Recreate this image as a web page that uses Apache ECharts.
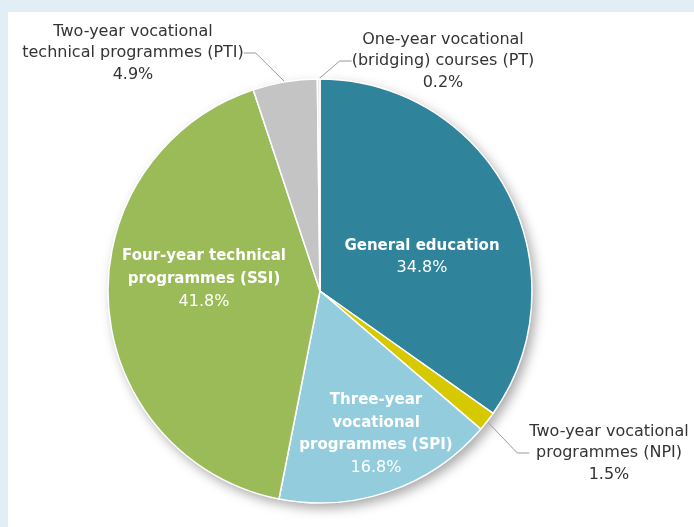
<!DOCTYPE html>
<html>
<head>
<meta charset="utf-8">
<script src="https://cdn.jsdelivr.net/npm/echarts@6/dist/echarts.min.js"></script>
<style>
  html, body { margin: 0; padding: 0; background: #e1eef5; }
  #chart { position: absolute; left: 8px; top: 12px; width: 686px; height: 515px; background: #fff; }
</style>
</head>
<body>
<div id="chart"></div>
<script>
// programme types, clockwise from 12 o'clock
var categories = [
    'General education',
    'Two-year vocational\nprogrammes (NPI)',
    'Three-year\nvocational\nprogrammes (SPI)',
    'Four-year technical\nprogrammes (SSI)',
    'Two-year vocational\ntechnical programmes (PTI)',
    'One-year vocational\n(bridging) courses (PT)'
];
var shares = [34.8, 1.5, 16.8, 41.8, 4.9, 0.2];
var colors = ['#2f849b', '#d7c900', '#93cddd', '#9bbb59', '#c4c4c4', '#e4e4e4'];
var inside = [true, false, true, true, false, false];

// where each label block is centred (chart px)
var labelPos = [[414, 245], [601, 441], [368, 422], [196, 267], [125, 41], [435, 49]];

var myChart = echarts.init(document.getElementById('chart'));

var data = shares.map(function (v, i) {
    var item = { value: v, name: categories[i], itemStyle: { color: colors[i] } };
    if (inside[i]) {
        item.label = { position: 'inside' };
        item.labelLine = { show: false };
    }
    return item;
});

var font = 'DejaVu Sans';

var option = {
    animation: false,
    series: [
        {
            // shadow underneath the whole pie
            type: 'pie',
            z: 1,
            silent: true,
            center: [312, 279],
            radius: [0, 212],
            startAngle: 90,
            label: { show: false },
            labelLine: { show: false },
            itemStyle: {
                color: '#fff',
                shadowBlur: 12,
                shadowColor: 'rgba(0,0,0,0.35)',
                shadowOffsetX: 4,
                shadowOffsetY: 5
            },
            data: shares.map(function (v) { return { value: v }; })
        },
        {
            type: 'pie',
            z: 2,
            center: [312, 279],
            radius: [0, 212],
            startAngle: 90,
            avoidLabelOverlap: false,
            itemStyle: { borderColor: '#fff', borderWidth: 1.5 },
            label: {
                show: true,
                formatter: function (p) {
                    var pct = p.value.toFixed(1) + '%';
                    if (inside[p.dataIndex]) {
                        return p.name.split('\n').map(function (s) { return '{b|' + s + '}'; }).join('\n') + '\n{p|' + pct + '}';
                    }
                    return p.name.split('\n').map(function (s) { return '{o|' + s + '}'; }).join('\n') + '\n{o|' + pct + '}';
                },
                rich: {
                    b: { color: '#fff', fontWeight: 'bold', fontSize: 15, lineHeight: 22.5, align: 'center', fontFamily: font },
                    p: { color: '#fff', fontSize: 16, lineHeight: 22.5, align: 'center', fontFamily: font },
                    o: { color: '#333', fontSize: 16, lineHeight: 21.5, align: 'center', fontFamily: font }
                }
            },
            labelLine: {
                show: true,
                length: 10,
                length2: 12,
                lineStyle: { color: '#9a9a9a', width: 1 }
            },
            labelLayout: function (params) {
                var pos = labelPos[params.dataIndex];
                return { x: pos[0], y: pos[1], align: 'center', verticalAlign: 'middle' };
            },
            data: data
        }
    ]
};
myChart.setOption(option);
</script>
</body>
</html>
